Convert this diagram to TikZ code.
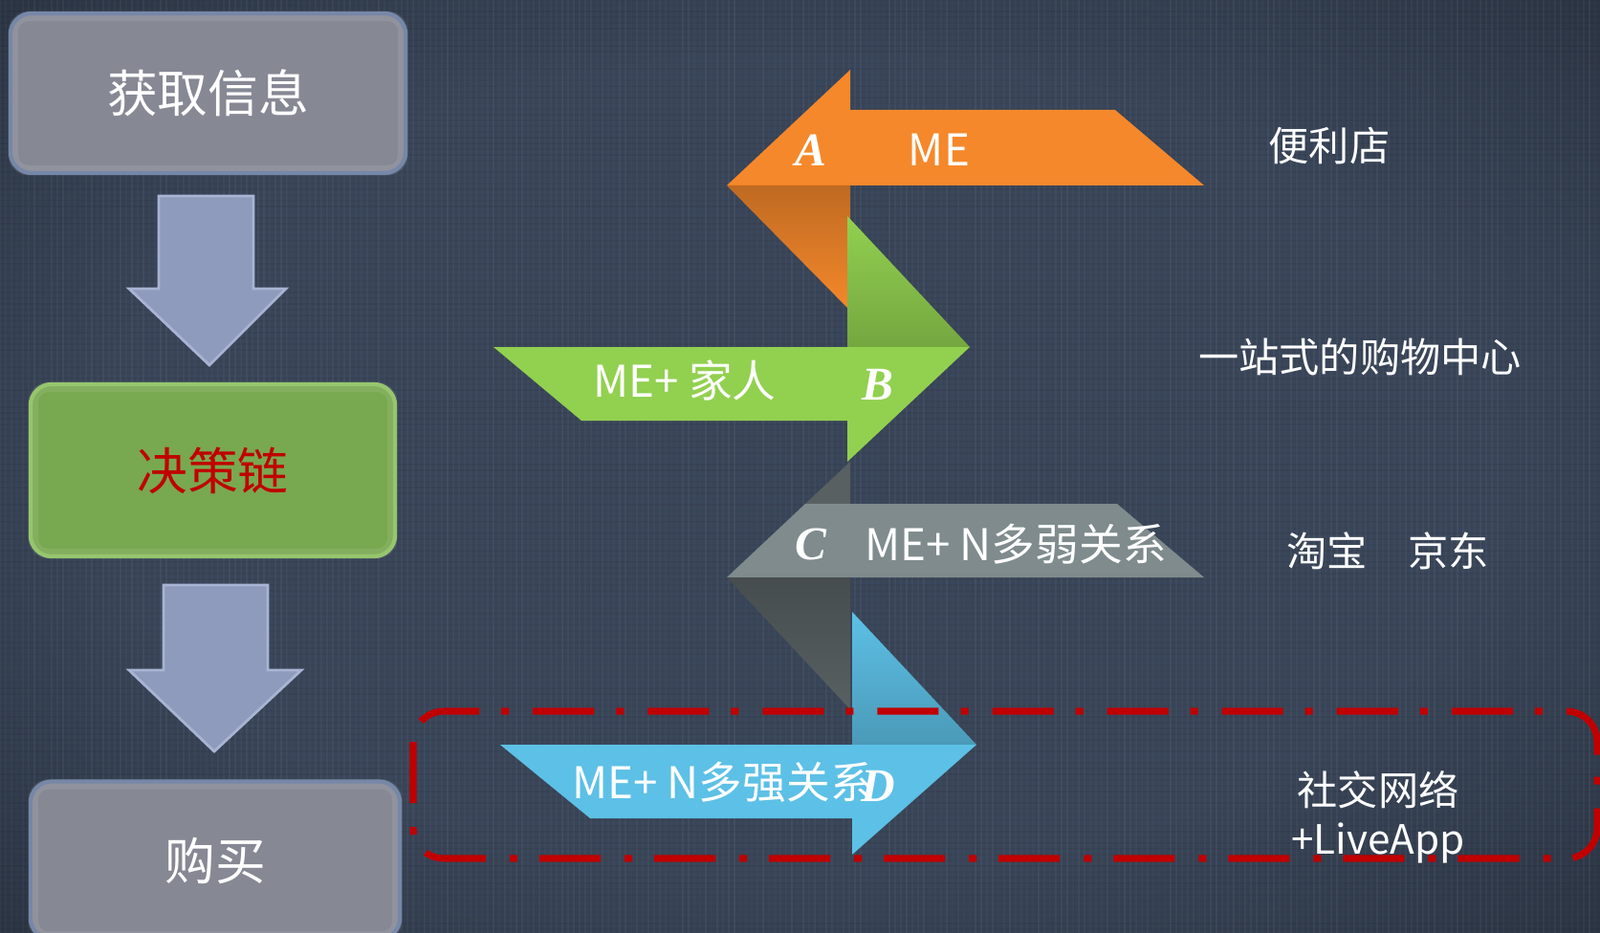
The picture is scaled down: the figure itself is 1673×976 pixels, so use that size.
\documentclass[tikz,border=0pt]{standalone}
\usepackage{fontspec}
\newfontfamily\cjk{Noto Sans CJK SC}
\newfontfamily\tagfont{Liberation Serif}
\usetikzlibrary{positioning}
\definecolor{bgin}{RGB}{57,69,88}
\definecolor{bgout}{RGB}{28,34,44}
\definecolor{steel}{RGB}{105,124,160}
\definecolor{boxgray}{RGB}{134,136,148}
\definecolor{boxgreen}{RGB}{120,168,80}
\definecolor{greenedge}{RGB}{140,192,96}
\definecolor{flowblue}{RGB}{143,155,188}
\definecolor{flowedge}{RGB}{168,180,210}
\definecolor{arrorange}{RGB}{245,136,43}
\definecolor{arrgreen}{RGB}{146,208,80}
\definecolor{arrgray}{RGB}{127,139,140}
\definecolor{arrblue}{RGB}{93,192,230}
\definecolor{foldgray}{RGB}{88,96,98}
\definecolor{chainred}{RGB}{192,0,0}
\pgfdeclareradialshading{vignette}{\pgfpoint{0bp}{0bp}}{color(0bp)=(bgin); color(22bp)=(bgin); color(50bp)=(bgout); color(72bp)=(bgout)}
\tikzset{
    %left column boxes
    panel/.style={rounded corners=.22cm, line width=1.2pt, draw=steel, text=white, font=\cjk\fontsize{15}{18}\selectfont},
    flowarr/.style={fill=flowblue, draw=flowedge, line width=.8pt},
    arrtext/.style={text=white, font=\cjk\fontsize{13}{15}\selectfont},
    tag/.style={text=white, font=\tagfont\bfseries\itshape\fontsize{14}{16}\selectfont},
    side/.style={text=white, font=\cjk\fontsize{12}{14.5}\selectfont},
    redbox/.style={draw=chainred, line width=2pt, rounded corners=.32cm, dash pattern=on .64cm off .25cm on .08cm off .23cm}
}
\def\bevel#1{
    \draw[white, opacity=.09, line width=3pt, rounded corners=.16cm] ([shift={(5,5)}]#1.north west) rectangle ([shift={(-5,-5)}]#1.south east);
}

\begin{document}
\begin{tikzpicture}[x=0.01cm, y=-0.01cm]
    \useasboundingbox (0,0) rectangle (1673,976);
    \shade[shading=vignette] (0,0) rectangle (1673,976);
    % cloth texture
    \foreach \i in {0,6,...,1673}{
        \pgfmathsetmacro\op{0.015+0.035*rnd}
        \draw[white, opacity=\op, line width=.5pt] (\i,0) -- (\i,976);
    }
    \foreach \j in {0,6,...,976}{
        \pgfmathsetmacro\op{0.015+0.035*rnd}
        \draw[black, opacity=\op, line width=.5pt] (0,\j) -- (1673,\j);
    }
    % decision steps
    \node[panel, fill=boxgray, minimum width=4.13cm, minimum height=1.67cm] (info) at (217.5,97.5) {获取信息};
    \node[panel, fill=boxgreen, draw=greenedge, text=chainred, minimum width=3.81cm, minimum height=1.8cm] (chain) at (222.5,492) {决策链};
    \node[panel, fill=boxgray, minimum width=3.86cm, minimum height=1.65cm] (buy) at (225,900) {购买};
    \bevel{info}
    \bevel{chain}
    \bevel{buy}
    \draw[flowarr] (166,205) -- (265,205) -- (265,302) -- (299,302) -- (219,382) -- (135,302) -- (166,302) -- cycle;
    \draw[flowarr] (171,612) -- (280,612) -- (280,701) -- (315,701) -- (224,786) -- (135,701) -- (171,701) -- cycle;
    % folded arrows
    \fill[arrorange] (889,73) -- (760,194) -- (1259,194) -- (1166,115) -- (889,115) -- cycle;
    \shade[top color=arrorange!78!black, bottom color=arrorange] (760,194) -- (889,194) -- (889,325) -- cycle;
    \shade[top color=arrgreen, bottom color=arrgreen!80!black] (886,226) -- (1014,363) -- (886,363) -- cycle;
    \fill[arrgreen] (516,363) -- (1014,363) -- (886,483) -- (886,440) -- (608,440) -- cycle;
    \fill[foldgray] (889,483) -- (842,527) -- (889,527) -- cycle;
    \fill[arrgray] (842,527) -- (1168,527) -- (1259,604) -- (760,604) -- cycle;
    \shade[top color=foldgray!80!black, bottom color=foldgray] (760,604) -- (889,604) -- (889,742) -- cycle;
    \shade[top color=arrblue, bottom color=arrblue!80!black] (891,640) -- (1021,779) -- (891,779) -- cycle;
    \fill[arrblue] (523,779) -- (1021,779) -- (891,894) -- (891,856) -- (617,856) -- cycle;
    \node[tag] (a) at (848,157) {A};
    \node[arrtext] (me) at (982,157) {ME};
    \node[arrtext] (family) at (716,398) {ME+ 家人};
    \node[tag] (b) at (918,402) {B};
    \node[tag] (c) at (848,569) {C};
    \node[arrtext] (weak) at (1062,569) {ME+ N多弱关系};
    \node[arrtext] (strong) at (756,818) {ME+ N多强关系};
    \node[tag] (d) at (918,822) {D};
    % channels
    \draw[redbox] (432,744) rectangle (1670,898);
    \node[side] (store) at (1390,153) {便利店};
    \node[side] (mall) at (1422,373) {一站式的购物中心};
    \node[side] (shop) at (1451,576) {淘宝　京东};
    \node[side, align=center] (social) at (1441,855) {社交网络\\+LiveApp};
\end{tikzpicture}
\end{document}
